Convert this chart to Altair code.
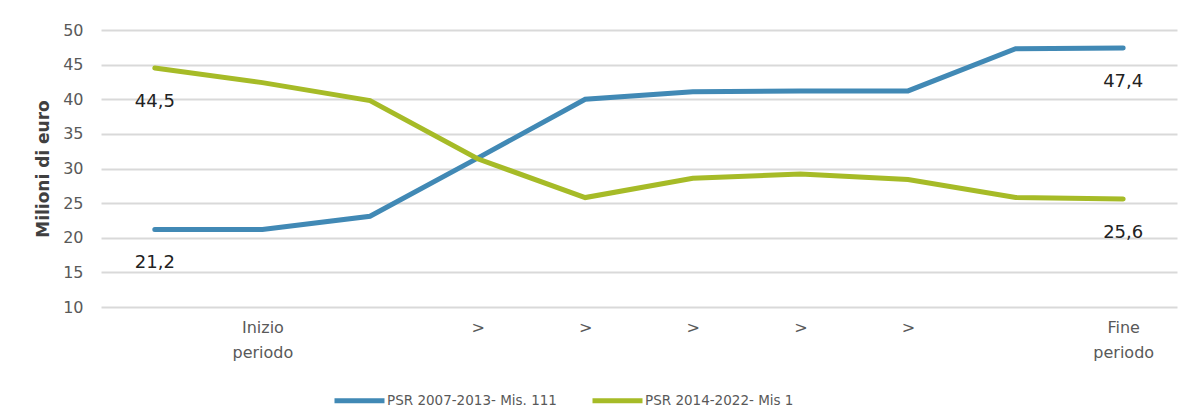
import json
import altair as alt
import pandas as pd

# ---- data ----
steps = [1, 2, 3, 4, 5, 6, 7, 8, 9, 10]
x_labels = ["", "Inizio|periodo", "", ">", ">", ">", ">", ">", "", "Fine|periodo"]
y_ticks = [10, 15, 20, 25, 30, 35, 40, 45, 50]
series_names = ["PSR 2007-2013- Mis. 111", "PSR 2014-2022- Mis 1"]
psr_2007_2013 = [21.2, 21.2, 23.1, 31.5, 40.0, 41.1, 41.2, 41.2, 47.3, 47.4]
psr_2014_2022 = [44.5, 42.4, 39.8, 31.4, 25.8, 28.6, 29.2, 28.4, 25.8, 25.6]
series_colors = ["#4189B5", "#A6BB27"]

rows = []
for s, vals in zip(series_names, [psr_2007_2013, psr_2014_2022]):
    for i, v in zip(steps, vals):
        rows.append({"step": i, "serie": s, "valore": v})
df = pd.DataFrame(rows)

FONT = "DejaVu Sans"
label_expr = f"split({json.dumps(x_labels)}[datum.value - 1], '|')"

x_enc = alt.X(
    "step:O",
    axis=alt.Axis(
        title=None,
        labelExpr=label_expr,
        labelAngle=0,
        domain=False,
        ticks=False,
        tickSize=0,
        grid=False,
        labelPadding=12,
        labelFontSize=16,
        labelColor="#595959",
        labelFont=FONT,
        labelLineHeight=25,
        labelBaseline="top",
    ),
    scale=alt.Scale(padding=0.5),
)

y_enc = alt.Y(
    "valore:Q",
    scale=alt.Scale(domain=[10, 50], nice=False, zero=False),
    axis=alt.Axis(
        title="Milioni di euro",
        values=y_ticks,
        labelOverlap=False,
        domain=False,
        ticks=False,
        tickSize=0,
        labelPadding=18,
        labelFontSize=16,
        labelColor="#595959",
        labelFont=FONT,
        gridColor="#D9D9D9",
        gridWidth=2,
        titleFont=FONT,
        titleFontSize=17,
        titleFontWeight="bold",
        titleColor="#404040",
        titleX=-58,
        titleY=138.5,
        titleAngle=270,
        titleAlign="center",
        titleBaseline="middle",
    ),
)

color_enc = alt.Color(
    "serie:N",
    scale=alt.Scale(domain=series_names, range=series_colors),
    legend=alt.Legend(
        title=None,
        orient="none",
        direction="horizontal",
        legendX=231,
        legendY=343,
        symbolType="stroke",
        symbolSize=2500,
        symbolStrokeWidth=5,
        labelFont=FONT,
        labelFontSize=13.5,
        labelColor="#595959",
        labelOffset=0,
        labelLimit=400,
        columnPadding=25,
    ),
)

lines = alt.Chart(df).mark_line(strokeWidth=5, strokeCap="round").encode(
    x=x_enc, y=y_enc, color=color_enc
)

labels = (
    alt.Chart(df)
    .transform_filter("datum.step == 1 || datum.step == 10")
    .transform_calculate(lbl="replace(format(datum.valore, '.1f'), '.', ',')")
    .mark_text(dy=34, fontSize=18, font=FONT, color="#222222", baseline="middle")
    .encode(x=x_enc, y=y_enc, text="lbl:N")
)

chart = (
    alt.layer(lines, labels)
    .properties(
        width=1076,
        height=277,
        autosize=alt.AutoSizeParams(type="none"),
        padding={"left": 93, "top": 22, "right": 5, "bottom": 110},
        background="white",
    )
    .configure_view(stroke=None)
)

chart.save("out.html", embed_options={"renderer": "svg", "actions": False})
